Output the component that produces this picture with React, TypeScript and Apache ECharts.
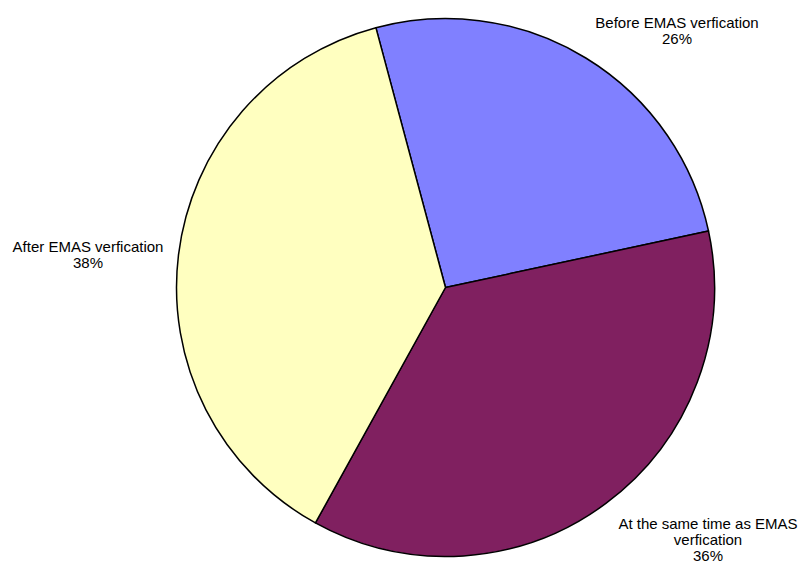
import React, { useEffect, useRef } from "react";
import * as echarts from "echarts";

const categories = [
  "Before EMAS verfication",
  "At the same time as EMAS\nverfication",
  "After EMAS verfication",
];
const values = [25.8, 36.4, 37.8];
const colors = ["#8080FF", "#802060", "#FFFFC0"];

// label anchor positions (px) for each slice
const labelPositions: [number, number][] = [
  [677, 30],
  [708, 539],
  [88, 254],
];

export default function App() {
  const ref = useRef<HTMLDivElement>(null);
  useEffect(() => {
    if (!ref.current) return;
    const chart = echarts.init(ref.current, undefined, { renderer: "svg" });
    chart.setOption({
      animation: false,
      backgroundColor: "#ffffff",
      series: [
        {
          type: "pie",
          center: [445.5, 287.5],
          radius: 269,
          startAngle: 105,
          clockwise: true,
          avoidLabelOverlap: false,
          data: categories.map((name, i) => ({
            name,
            value: values[i],
            itemStyle: { color: colors[i] },
          })),
          itemStyle: { borderColor: "#000000", borderWidth: 1.5 },
          label: {
            show: true,
            position: "outside",
            alignTo: "none",
            overflow: "none",
            formatter: (p: any) => `${p.name}\n${Math.round(p.percent)}%`,
            fontFamily: "Liberation Sans, Arial, sans-serif",
            fontSize: 15,
            lineHeight: 16,
            color: "#000000",
            align: "center",
          },
          labelLine: { show: false },
          labelLayout: (params: any) => {
            const pos = labelPositions[params.dataIndex];
            return {
              x: pos[0],
              y: pos[1],
              align: "center",
              verticalAlign: "middle",
            };
          },
          emphasis: { disabled: true },
        },
      ],
    });
    return () => chart.dispose();
  }, []);
  return (
    <div
      ref={ref}
      style={{ position: "fixed", left: 0, top: 0, width: 800, height: 563 }}
    />
  );
}
